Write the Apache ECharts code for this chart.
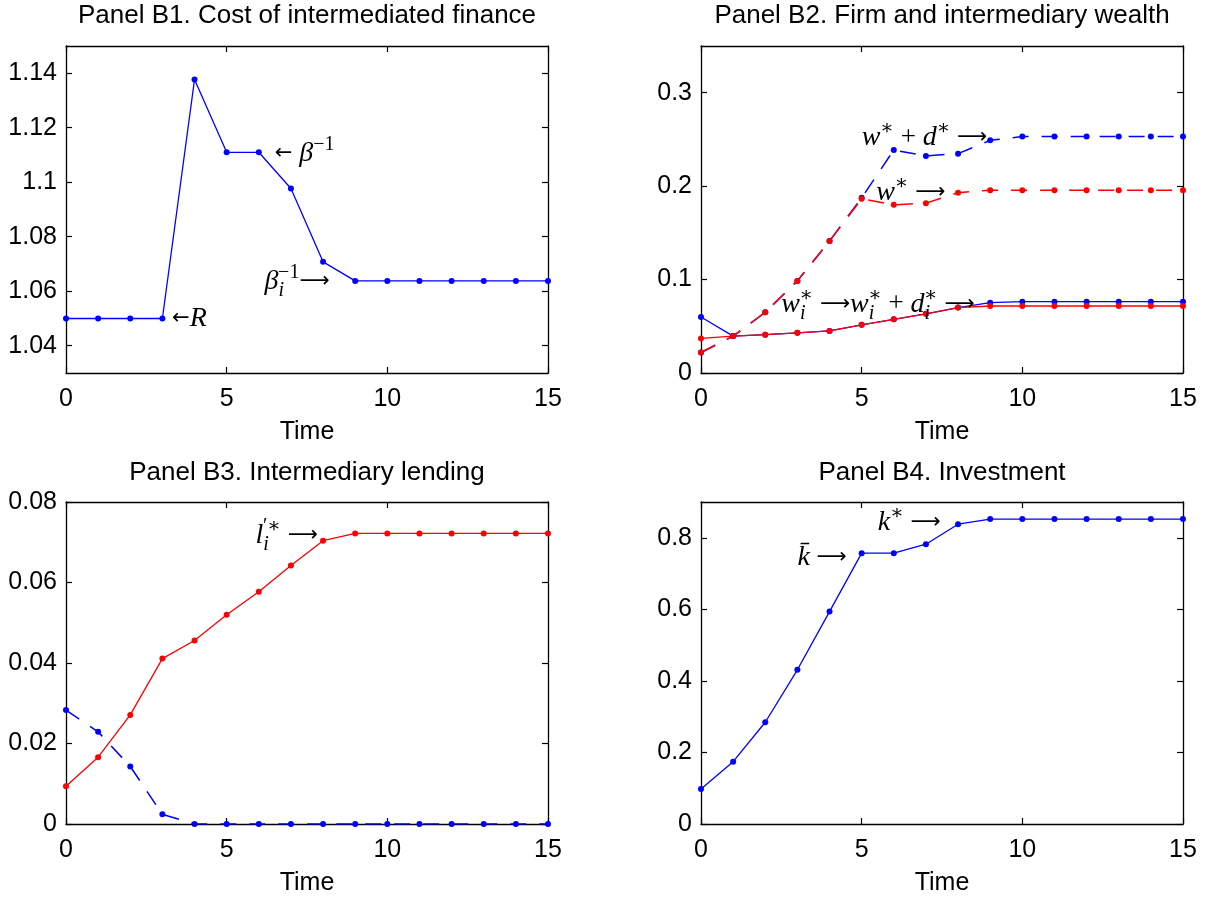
<!DOCTYPE html>
<html>
<head>
<meta charset="utf-8">
<script src="https://cdn.jsdelivr.net/npm/echarts@6/dist/echarts.min.js"></script>
<style>
html,body{margin:0;padding:0;background:#fff;}
#c{width:1206px;height:897px;}
</style>
</head>
<body>
<div id="c"></div>
<script>
// ---------- data ----------
var time = [0,1,2,3,4,5,6,7,8,9,10,11,12,13,14,15];
var xTicks = [0,5,10,15];

// Panel B1
var costFinance = [1.05,1.05,1.05,1.05,1.1377,1.111,1.111,1.0977,1.0708,1.0638,1.0638,1.0638,1.0638,1.0638,1.0638,1.0638];
var b1Ticks = [1.04,1.06,1.08,1.1,1.12,1.14];

// Panel B2
var firmWealthPlusD = [0.0219,0.0395,0.065,0.0986,0.1413,0.1875,0.2387,0.2323,0.2348,0.249,0.2531,0.2531,0.2531,0.2531,0.2531,0.2531];
var firmWealth      = [0.0219,0.0395,0.065,0.0986,0.1413,0.1864,0.180,0.1818,0.193,0.1957,0.1957,0.1957,0.1957,0.1957,0.1957,0.1957];
var intWealthPlusD  = [0.060,0.0395,0.041,0.043,0.045,0.0516,0.0574,0.0634,0.070,0.0753,0.0763,0.0763,0.0763,0.0763,0.0763,0.0763];
var intWealth       = [0.037,0.0395,0.041,0.043,0.045,0.0516,0.0574,0.0634,0.070,0.0717,0.0717,0.0717,0.0717,0.0717,0.0717,0.0717];
var b2Ticks = [0,0.1,0.2,0.3];

// Panel B3
var intLending  = [0.0094,0.0166,0.0271,0.0411,0.0456,0.052,0.0577,0.0642,0.0704,0.0722,0.0722,0.0722,0.0722,0.0722,0.0722,0.0722];
var intDeposits = [0.0283,0.0229,0.0143,0.0024,0,0,0,0,0,0,0,0,0,0,0,0];
var b3Ticks = [0,0.02,0.04,0.06,0.08];

// Panel B4
var investment = [0.098,0.1743,0.2844,0.431,0.5936,0.757,0.757,0.782,0.838,0.8524,0.8524,0.8524,0.8524,0.8524,0.8524,0.8524];
var b4Ticks = [0,0.2,0.4,0.6,0.8];

var titles = ['Panel B1. Cost of intermediated finance','Panel B2. Firm and intermediary wealth','Panel B3. Intermediary lending','Panel B4. Investment'];

// ---------- styling ----------
var BLUE = '#0000ff', RED = '#ff0000';
var SANS = 'Liberation Sans, Arial, Helvetica, sans-serif';
var SERIF = 'Liberation Serif, DejaVu Serif, serif';
var FS = 25;
var LH = 38;

var rich = {
  m:    {fontFamily: SERIF, fontStyle: 'italic', fontSize: 28, color: '#000', lineHeight: LH, verticalAlign: 'middle'},
  r:    {fontFamily: SERIF, fontSize: 27, color: '#000', lineHeight: LH, verticalAlign: 'middle'},
  ar:   {fontFamily: 'DejaVu Sans, sans-serif', fontSize: 21, color: '#000', lineHeight: LH, verticalAlign: 'middle'},
  sup:  {fontFamily: SERIF, fontSize: 20, color: '#000', lineHeight: LH, verticalAlign: 'top'},
  supk: {fontFamily: SERIF, fontSize: 20, color: '#000', lineHeight: LH, verticalAlign: 'top', padding: [0, 0, 0, -6]},
  pr:   {fontFamily: 'DejaVu Serif, serif', fontSize: 20, color: '#000', lineHeight: LH, verticalAlign: 'top'},
  sub:  {fontFamily: SERIF, fontStyle: 'italic', fontSize: 20, color: '#000', lineHeight: LH, verticalAlign: 'bottom'}
};

var grids = [
  {left: 66, right: 658, top: 46, height: 327},
  {left: 701, right: 23, top: 46, height: 327},
  {left: 66, right: 658, top: 502, height: 326},
  {left: 701, right: 23, top: 502, height: 326}
];
var yRanges = [[1.03,1.15,b1Ticks],[0,0.35,b2Ticks],[0,0.08,b3Ticks],[0,0.9,b4Ticks]];

var xAxes = [], yAxes = [], titleArr = [];
grids.forEach(function(g, i){
  var axLine = {show: true, onZero: false, lineStyle: {color: '#000', width: 1.3}};
  var tickStyle = {color: '#000', width: 1.2};
  xAxes.push({type: 'value', gridIndex: i, min: 0, max: 15, position: 'bottom',
    axisLine: axLine, splitLine: {show: false},
    axisTick: {show: true, inside: true, length: 6, customValues: xTicks, lineStyle: tickStyle},
    axisLabel: {show: true, customValues: xTicks, margin: 14, fontSize: FS, fontFamily: SANS, color: '#000'},
    name: 'Time', nameLocation: 'middle', nameGap: 47,
    nameTextStyle: {fontSize: 25, fontFamily: SANS, color: '#000'}
  });
  xAxes.push({type: 'value', gridIndex: i, min: 0, max: 15, position: 'top',
    axisLine: axLine, splitLine: {show: false},
    axisTick: {show: true, inside: true, length: 6, customValues: xTicks, lineStyle: tickStyle},
    axisLabel: {show: false}
  });
  var yr = yRanges[i];
  yAxes.push({type: 'value', gridIndex: i, min: yr[0], max: yr[1], position: 'left',
    axisLine: axLine, splitLine: {show: false},
    axisTick: {show: true, inside: true, length: 6, customValues: yr[2], lineStyle: tickStyle},
    axisLabel: {show: true, customValues: yr[2], margin: 9, fontSize: FS, fontFamily: SANS, color: '#000'}
  });
  yAxes.push({type: 'value', gridIndex: i, min: yr[0], max: yr[1], position: 'right',
    axisLine: axLine, splitLine: {show: false},
    axisTick: {show: true, inside: true, length: 6, customValues: yr[2], lineStyle: tickStyle},
    axisLabel: {show: false}
  });
  titleArr.push({text: titles[i], left: g.left + 241, top: i < 2 ? 3 : 460,
    textAlign: 'center', padding: 0,
    textStyle: {fontSize: 26, fontWeight: 'normal', fontFamily: SANS, color: '#000'}});
});

function pts(v){ return time.map(function(t, k){ return [t, v[k]]; }); }

function note(x, y, fmt, align){
  return {coord: [x, y], symbol: 'circle', symbolSize: 0,
    label: {show: true, position: 'inside', formatter: fmt, align: align || 'left', verticalAlign: 'middle', rich: rich}};
}

function line(gi, data, color, dashed, notes){
  var s = {type: 'line', xAxisIndex: gi * 2, yAxisIndex: gi * 2, data: pts(data),
    symbol: 'circle', symbolSize: 6, showSymbol: true, animation: false, silent: true,
    itemStyle: {color: color},
    lineStyle: {color: color, width: dashed ? 1.5 : 1.3, type: dashed ? [16, 13] : 'solid'}
  };
  if (notes) {
    s.markPoint = {symbol: 'circle', symbolSize: 0, silent: true, animation: false, data: notes,
      itemStyle: {color: 'rgba(0,0,0,0)'}};
  }
  return s;
}

var series = [
  line(0, costFinance, BLUE, false, [
    note(3.3, 1.05, '{ar|←}{m|R}'),
    note(6.5, 1.1105, '{ar|←}{r| }{m|β}{sup|−1}'),
    note(8.2, 1.0635, '{m|β}{sub|i}{supk|−1}{ar|⟶}', 'right')
  ]),
  line(1, firmWealthPlusD, BLUE, true, [
    note(5.0, 0.2515, '{m|w}{sup|∗}{r| + }{m|d}{sup|∗}{r| }{ar|⟶}'),
    note(5.45, 0.193, '{m|w}{sup|∗}{r| }{ar|⟶}'),
    note(2.5, 0.0735, '{m|w}{sub|i}{supk|∗}{r| }{ar|⟶}{m|w}{sub|i}{supk|∗}{r| + }{m|d}{sub|i}{supk|∗}{r| }{ar|⟶}')
  ]),
  line(1, firmWealth, RED, true),
  line(1, intWealthPlusD, BLUE, false),
  line(1, intWealth, RED, false),
  line(2, intDeposits, BLUE, true),
  line(2, intLending, RED, false, [
    note(5.9, 0.0716, '{m|l}{sub|i}{supk|′∗}{r| }{ar|⟶}')
  ]),
  line(3, investment, BLUE, false, [
    note(3.0, 0.745, '{m|k\u0304}{r| }{ar|⟶}'),
    note(5.5, 0.843, '{m|k}{sup|∗}{r| }{ar|⟶}')
  ])
];

var chart = echarts.init(document.getElementById('c'), null, {renderer: 'canvas'});
chart.setOption({
  backgroundColor: '#fff',
  animation: false,
  title: titleArr,
  grid: grids,
  xAxis: xAxes,
  yAxis: yAxes,
  series: series
});
</script>
</body>
</html>
